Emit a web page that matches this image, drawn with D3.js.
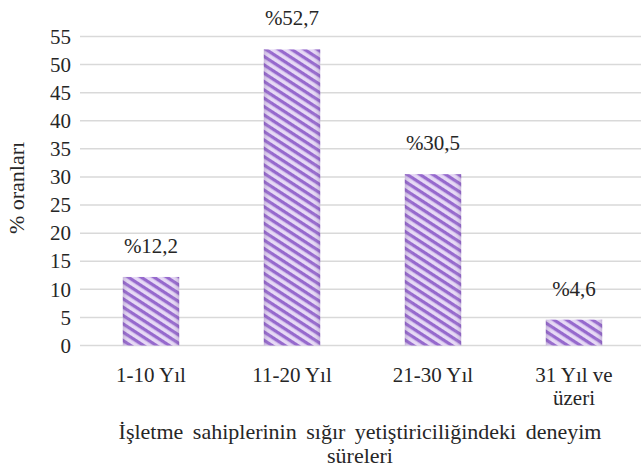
<!DOCTYPE html>
<html><head><meta charset="utf-8">
<script src="https://cdn.jsdelivr.net/npm/d3@7"></script>
<style>body{margin:0;background:#fff}svg{display:block}
svg text{font-family:"Liberation Serif","Times New Roman","DejaVu Serif",serif;fill:#262626}</style>
</head><body>
<script>
const categories = [["1-10 Yıl"], ["11-20 Yıl"], ["21-30 Yıl"], ["31 Yıl ve", "üzeri"]];
const values = [12.2, 52.7, 30.5, 4.6];
const valueLabels = ["%12,2", "%52,7", "%30,5", "%4,6"];
const yTicks = [0, 5, 10, 15, 20, 25, 30, 35, 40, 45, 50, 55];
const yTitle = "% oranları";
const xTitle = ["İşletme sahiplerinin sığır yetiştiriciliğindeki deneyim", "süreleri"];

const W = 641, H = 469;
const svg = d3.select("body").append("svg").attr("width", W).attr("height", H);

const x = d3.scaleBand().domain(d3.range(categories.length)).range([80.5, 644.5]).paddingInner(0.6).paddingOuter(0.3);
const y = d3.scaleLinear().domain([0, 55]).range([345.5, 36.5]);

const defs = svg.append("defs");
const pat = defs.append("pattern").attr("id", "stripes").attr("patternUnits", "userSpaceOnUse")
  .attr("width", 8).attr("height", 7).attr("patternTransform", "rotate(33)");
pat.append("rect").attr("width", 8).attr("height", 7).attr("fill", "#e6d9f5");
pat.append("rect").attr("width", 8).attr("height", 3.3).attr("fill", "#9669cd");
const grad = defs.append("linearGradient").attr("id", "shade").attr("x1", 0).attr("x2", 1).attr("y1", 0).attr("y2", 0);
grad.append("stop").attr("offset", "0").attr("stop-color", "#5a3a80").attr("stop-opacity", 0.22);
grad.append("stop").attr("offset", "0.15").attr("stop-color", "#fff").attr("stop-opacity", 0.0);
grad.append("stop").attr("offset", "0.85").attr("stop-color", "#fff").attr("stop-opacity", 0.0);
grad.append("stop").attr("offset", "1").attr("stop-color", "#5a3a80").attr("stop-opacity", 0.22);

// gridlines
svg.append("g").selectAll("line").data(yTicks).join("line")
  .attr("x1", 80).attr("x2", W).attr("y1", d => y(d)).attr("y2", d => y(d))
  .attr("stroke", "#d9d9d9").attr("stroke-width", 1.5);

// y axis labels
const yAxis = d3.axisLeft(y).tickValues(yTicks).tickSize(0).tickPadding(0);
const gy = svg.append("g").attr("transform", "translate(71,0)").call(yAxis);
gy.select(".domain").remove();
gy.attr("font-family", null).attr("font-size", null);
gy.selectAll("text").attr("font-size", 21).attr("fill", "#262626");

// bars
const bars = svg.append("g");
bars.selectAll("rect.bar").data(values).join("rect").attr("class", "bar")
  .attr("x", (d, i) => x(i)).attr("width", x.bandwidth())
  .attr("y", d => y(d)).attr("height", d => y(0) - y(d)).attr("fill", "url(#stripes)");
bars.selectAll("rect.shade").data(values).join("rect").attr("class", "shade")
  .attr("x", (d, i) => x(i)).attr("width", x.bandwidth())
  .attr("y", d => y(d)).attr("height", d => y(0) - y(d)).attr("fill", "url(#shade)");

// value labels
svg.append("g").selectAll("text").data(values).join("text")
  .attr("x", (d, i) => x(i) + x.bandwidth() / 2).attr("y", d => y(d) - 24)
  .attr("text-anchor", "middle").attr("font-size", 21)
  .text((d, i) => valueLabels[i]);

// x category labels
const xl = svg.append("g").selectAll("text").data(categories).join("text")
  .attr("x", (d, i) => x(i) + x.bandwidth() / 2).attr("y", 382)
  .attr("text-anchor", "middle").attr("font-size", 21);
xl.selectAll("tspan").data(d => d).join("tspan")
  .attr("x", function () { return this.parentNode.getAttribute("x"); })
  .attr("dy", (d, j) => j === 0 ? 0 : 23).text(d => d);

// x title
svg.append("g").selectAll("text").data(xTitle).join("text")
  .attr("x", 360).attr("y", (d, i) => 439 + i * 24)
  .attr("text-anchor", "middle").attr("font-size", 22).attr("word-spacing", 4)
  .text(d => d);

// y title
svg.append("text").attr("transform", "translate(24,188) rotate(-90)")
  .attr("text-anchor", "middle").attr("font-size", 22)
  .text(yTitle);
</script>
</body></html>
